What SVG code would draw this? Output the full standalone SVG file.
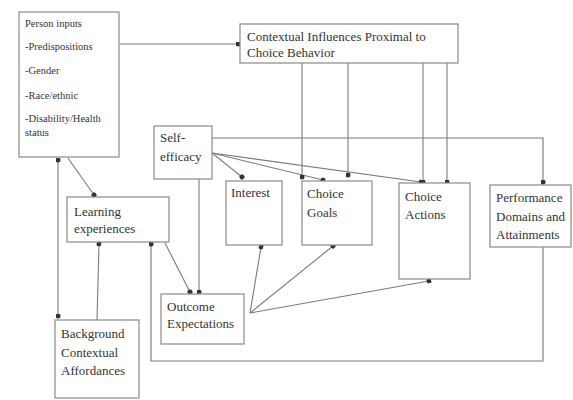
<svg xmlns="http://www.w3.org/2000/svg" width="573" height="400" viewBox="0 0 573 400">
<defs>
<marker id="dot" viewBox="0 0 6 6" refX="3" refY="3" markerWidth="5" markerHeight="5" markerUnits="userSpaceOnUse" orient="auto">
<circle cx="3" cy="3" r="3" fill="#333"/>
</marker>
<style>
.box{fill:#fff;stroke:#8a8a8a;stroke-width:1.2}
.t{font-family:"Liberation Serif","Times New Roman",serif;font-size:13px;fill:#333}
.ts{font-family:"Liberation Serif","Times New Roman",serif;font-size:10.5px;fill:#333}
.c{fill:none;stroke:#7a7a7a;stroke-width:1.1}
.a{marker-end:url(#dot)}
</style>
</defs>
<rect width="573" height="400" fill="#fff"/>
<g id="connectors">
<path class="c a" d="M120,44 H238"/>
<path class="c a" d="M68,158 L94,195"/>
<path class="c a" d="M58,160 V316" marker-start="url(#dot)"/>
<path class="c a" d="M97,320 L99,244"/>
<path class="c a" d="M165,243 L190,292"/>
<path class="c a" d="M199,179 V292"/>
<path class="c a" d="M212,153 L242,177"/>
<path class="c a" d="M212,153 L323,180"/>
<path class="c a" d="M212,153 L421,182"/>
<path class="c a" d="M212,138 H543 V182"/>
<path class="c a" d="M302,63 V177"/>
<path class="c a" d="M348,63 V175"/>
<path class="c a" d="M423,63 V182"/>
<path class="c a" d="M447,63 V182"/>
<path class="c a" d="M250,313 L261,247"/>
<path class="c a" d="M250,313 L333,246"/>
<path class="c a" d="M250,313 L429,281"/>
<path class="c a" d="M543,247 V361 H151 V244"/>
</g>
<g id="person-inputs">
<rect class="box" x="19" y="12" width="100" height="145"/>
<text class="ts" x="25" y="27">Person inputs</text>
<text class="ts" x="25" y="50">-Predispositions</text>
<text class="ts" x="25" y="74">-Gender</text>
<text class="ts" x="25" y="99">-Race/ethnic</text>
<text class="ts" x="25" y="122">-Disability/Health</text>
<text class="ts" x="25" y="136">status</text>
</g>
<g id="contextual">
<rect class="box" x="240" y="24" width="218" height="39"/>
<text class="t" x="247" y="41">Contextual Influences Proximal to</text>
<text class="t" x="247" y="57">Choice Behavior</text>
</g>
<g id="self-efficacy">
<rect class="box" x="154" y="126" width="58" height="53"/>
<text class="t" x="160" y="142">Self-</text>
<text class="t" x="160" y="161">efficacy</text>
</g>
<g id="interest">
<rect class="box" x="226" y="181" width="56" height="64"/>
<text class="t" x="231" y="197">Interest</text>
</g>
<g id="choice-goals">
<rect class="box" x="302" y="181" width="70" height="64"/>
<text class="t" x="307" y="198">Choice</text>
<text class="t" x="307" y="217">Goals</text>
</g>
<g id="choice-actions">
<rect class="box" x="399" y="183" width="71" height="96"/>
<text class="t" x="405" y="201">Choice</text>
<text class="t" x="405" y="219">Actions</text>
</g>
<g id="performance">
<rect class="box" x="490" y="185" width="81" height="62"/>
<text class="t" x="496" y="202">Performance</text>
<text class="t" x="496" y="221">Domains and</text>
<text class="t" x="496" y="239">Attainments</text>
</g>
<g id="learning">
<rect class="box" x="67" y="197" width="102" height="45"/>
<text class="t" x="74" y="216">Learning</text>
<text class="t" x="74" y="233">experiences</text>
</g>
<g id="outcome">
<rect class="box" x="161" y="294" width="83" height="50"/>
<text class="t" x="167" y="311">Outcome</text>
<text class="t" x="167" y="328">Expectations</text>
</g>
<g id="background">
<rect class="box" x="55" y="320" width="84" height="78"/>
<text class="t" x="61" y="338">Background</text>
<text class="t" x="61" y="357">Contextual</text>
<text class="t" x="61" y="375">Affordances</text>
</g>
</svg>
